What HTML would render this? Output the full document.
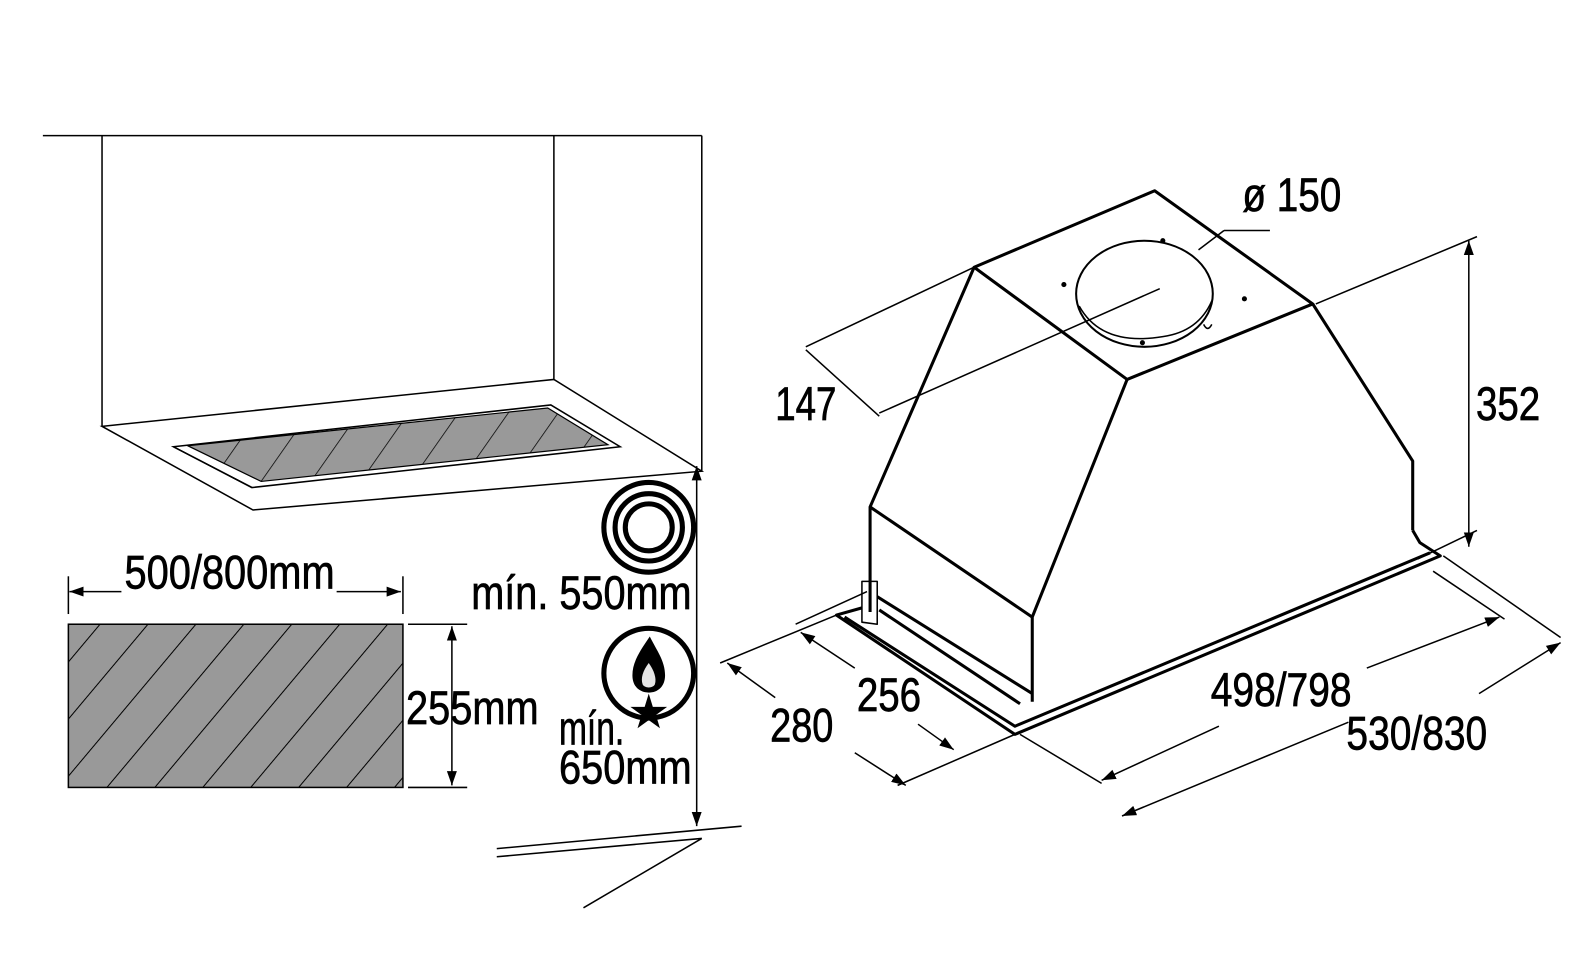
<!DOCTYPE html>
<html><head><meta charset="utf-8"><style>
html,body{margin:0;padding:0;background:#fff;}
svg{display:block}
text{font-family:"Liberation Sans",sans-serif;font-size:46px;fill:#000;stroke:#000;stroke-width:0.7}
</style></head><body>
<svg width="1594" height="980" viewBox="0 0 1562.7 960.8" xmlns="http://www.w3.org/2000/svg">
<defs>
<marker id="a" viewBox="0 0 10 10" refX="10" refY="5" markerWidth="14" markerHeight="14" markerUnits="userSpaceOnUse" orient="auto-start-reverse"><path d="M0,1.5 L10,5 L0,8.5 Z" fill="#000"/></marker>
<pattern id="h" patternUnits="userSpaceOnUse" width="36" height="36" patternTransform="rotate(40)"><rect width="36" height="36" fill="#999"/><line x1="0" y1="0" x2="0" y2="36" stroke="#000" stroke-width="2"/></pattern>
<pattern id="h2" patternUnits="userSpaceOnUse" width="40" height="40" patternTransform="rotate(35)"><rect width="40" height="40" fill="#999"/><line x1="0" y1="0" x2="0" y2="40" stroke="#000" stroke-width="1.5"/></pattern>
</defs>
<g fill="none" stroke="#000" stroke-width="1.5">
<line x1="42" y1="133" x2="688" y2="133"/>
<line x1="100" y1="133" x2="100" y2="418"/>
<line x1="543" y1="133" x2="543" y2="372"/>
<line x1="688" y1="133" x2="688" y2="462"/>
<path d="M100,418 L543,372 L688,462 L248,500 Z"/>
<path d="M170,438 L540,397 L608,438 L247,478 Z"/>
<path d="M184,437 L537,400 L596,436 L256,472 Z" fill="url(#h2)" stroke-width="1.2"/>
<line x1="170" y1="438" x2="247" y2="478"/>
<rect x="67" y="612" width="328" height="160" fill="url(#h)" stroke="#000"/>
<line x1="67" y1="565" x2="67" y2="602"/>
<line x1="395" y1="565" x2="395" y2="602"/>
<line x1="69" y1="580" x2="120" y2="580" marker-end="url(#a)" transform="rotate(180 94 580)"/>
<line x1="330" y1="580" x2="393" y2="580" marker-end="url(#a)"/>
<line x1="400" y1="612" x2="458" y2="612"/>
<line x1="400" y1="772" x2="458" y2="772"/>
<line x1="443" y1="614" x2="443" y2="770" marker-start="url(#a)" marker-end="url(#a)"/>
<line x1="683" y1="457" x2="683" y2="810" marker-start="url(#a)" marker-end="url(#a)"/>
<line x1="487" y1="832" x2="727" y2="810"/>
<line x1="487" y1="840" x2="688" y2="822"/>
<line x1="572" y1="890" x2="688" y2="822"/>
<g stroke-width="3" stroke-linejoin="round">
<path d="M955,262 L1132,187 L1287,298 L1105,372 Z"/>
<path d="M955,262 L853,497 L853,600"/>
<path d="M1105,372 L1012,605 L1012,688"/>
<path d="M853,497 L1012,605"/>
<path d="M1287,298 L1385,452 L1385,520"/>
<path d="M1385,520 L1392,532 L1412,545 L995,720 L820,603 L845,596"/>
<path d="M828,605 L995,712 L1402,542"/>
<path d="M845,570 L845,610 L860,612 L860,570 Z" stroke-width="1.5"/>
<path d="M860,585 L1012,680"/>
<path d="M862,598 L1000,690"/>
</g>
<ellipse cx="1122" cy="288" rx="67" ry="52" stroke-width="2"/>
<path d="M1058,300 Q1080,340 1140,330 Q1175,325 1188,295" stroke-width="1.5"/>
<path d="M1180,318 q4,8 8,0" stroke-width="1.5"/>
<line x1="1175" y1="245" x2="1200" y2="226"/>
<line x1="1200" y1="226" x2="1245" y2="226"/>
<line x1="862" y1="405" x2="1137" y2="283"/>
<line x1="790" y1="340" x2="955" y2="262"/>
<line x1="790" y1="343" x2="862" y2="408"/>
<line x1="1290" y1="298" x2="1448" y2="232"/>
<line x1="1390" y1="548" x2="1448" y2="520"/>
<line x1="1440" y1="236" x2="1440" y2="536" marker-start="url(#a)" marker-end="url(#a)"/>
<line x1="706" y1="650" x2="820" y2="603"/>
<line x1="880" y1="770" x2="995" y2="720"/>
<line x1="713" y1="650" x2="760" y2="684" marker-start="url(#a)"/>
<line x1="838" y1="738" x2="888" y2="770" marker-end="url(#a)"/>
<line x1="780" y1="612" x2="850" y2="580"/>
<line x1="785" y1="620" x2="838" y2="655" marker-start="url(#a)"/>
<line x1="900" y1="710" x2="935" y2="735" marker-end="url(#a)"/>
<line x1="1000" y1="720" x2="1080" y2="768"/>
<line x1="1415" y1="545" x2="1530" y2="625"/>
<line x1="1405" y1="560" x2="1475" y2="607"/>
<line x1="1080" y1="765" x2="1195" y2="712" marker-start="url(#a)"/>
<line x1="1340" y1="655" x2="1470" y2="605" marker-end="url(#a)"/>
<line x1="1100" y1="800" x2="1322" y2="708" marker-start="url(#a)"/>
<line x1="1450" y1="680" x2="1530" y2="630" marker-end="url(#a)"/>
</g>
<g fill="#000">
<circle cx="1140" cy="236" r="2.5"/><circle cx="1043" cy="279" r="2.5"/><circle cx="1220" cy="293" r="2.5"/><circle cx="1120" cy="336" r="2.5"/>
</g>
<g fill="none" stroke="#000" stroke-width="5">
<circle cx="636" cy="517" r="44"/><circle cx="636" cy="517" r="33"/><circle cx="636" cy="517" r="23"/>
<circle cx="636" cy="660" r="44"/>
</g>
<path d="M637,624 C626,640 620,650 620,662 C620,674 628,679 636,679 C645,679 652,673 652,662 C652,648 644,638 637,624 Z" fill="#000"/>
<path d="M636,650 C630,658 628,665 630,671 C632,675 640,675 642,671 C644,665 641,657 636,650 Z" fill="#e6e6e6"/>
<path d="M636,680 L640,693 L654,693 L643,701 L647,714 L636,706 L625,714 L629,701 L618,693 L632,693 Z" fill="#000"/>
<text x="122" y="577" textLength="206" lengthAdjust="spacingAndGlyphs">500/800mm</text>
<text x="398" y="710" textLength="130" lengthAdjust="spacingAndGlyphs">255mm</text>
<text x="462" y="597" textLength="216" lengthAdjust="spacingAndGlyphs">mín. 550mm</text>
<text x="548" y="730" textLength="64" lengthAdjust="spacingAndGlyphs">mín.</text>
<text x="548" y="768" textLength="130" lengthAdjust="spacingAndGlyphs">650mm</text>
<text x="1218" y="207" textLength="97" lengthAdjust="spacingAndGlyphs">ø 150</text>
<text x="760" y="412" textLength="60" lengthAdjust="spacingAndGlyphs">147</text>
<text x="1447" y="412" textLength="63" lengthAdjust="spacingAndGlyphs">352</text>
<text x="840" y="697" textLength="63" lengthAdjust="spacingAndGlyphs">256</text>
<text x="755" y="727" textLength="62" lengthAdjust="spacingAndGlyphs">280</text>
<text x="1187" y="692" textLength="138" lengthAdjust="spacingAndGlyphs">498/798</text>
<text x="1320" y="735" textLength="138" lengthAdjust="spacingAndGlyphs">530/830</text>
</svg>
</body></html>
